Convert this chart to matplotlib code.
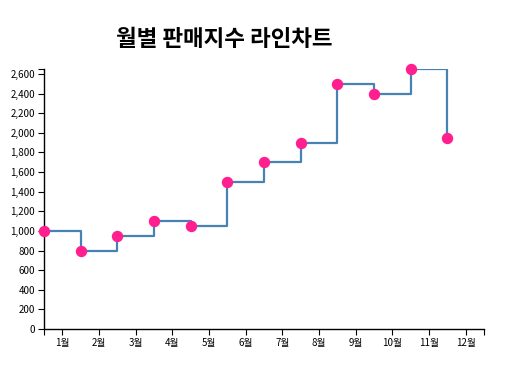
import matplotlib
matplotlib.use("Agg")
import matplotlib.pyplot as plt
from matplotlib.ticker import FuncFormatter

plt.rcParams['font.family'] = ['Noto Sans CJK KR', 'DejaVu Sans']

months = ["1월", "2월", "3월", "4월", "5월", "6월",
          "7월", "8월", "9월", "10월", "11월", "12월"]
sales = [1000, 800, 950, 1100, 1050, 1500, 1700, 1900, 2500, 2400, 2650, 1950]
y_ticks = list(range(0, 2601, 200))

fig = plt.figure(figsize=(5.2, 3.74), dpi=100)
W, H = 520, 374
ax = fig.add_axes([44 / W, 1 - 329 / H, 440 / W, 260 / H])

xs = list(range(len(months)))
ax.plot(xs, sales, drawstyle="steps-post", color="#4682b4", linewidth=1.6, zorder=2)
ax.plot(xs, sales, "o", color="#ff1f8e", markersize=7.2, zorder=3, clip_on=False)

ax.set_xlim(0, len(months))
ax.set_ylim(0, max(sales))

ax.set_xticks([i + 0.5 for i in xs])
ax.set_xticklabels(months)
ax.set_xticks([0, len(months)], minor=True)
ax.set_yticks(y_ticks)
ax.set_yticks([max(sales)], minor=True)
ax.yaxis.set_major_formatter(FuncFormatter(lambda v, p: f"{int(v):,}"))

for s in ["top", "right"]:
    ax.spines[s].set_visible(False)
for s in ["left", "bottom"]:
    ax.spines[s].set_linewidth(1)
ax.tick_params(which="both", length=4.5, width=0.8, labelsize=7, pad=2)

fig.text(224 / W, 1 - 40 / H, "월별 판매지수 라인차트", ha="center", va="center",
         fontsize=16.2, fontweight="bold")

fig.savefig("out.png", dpi=100)
